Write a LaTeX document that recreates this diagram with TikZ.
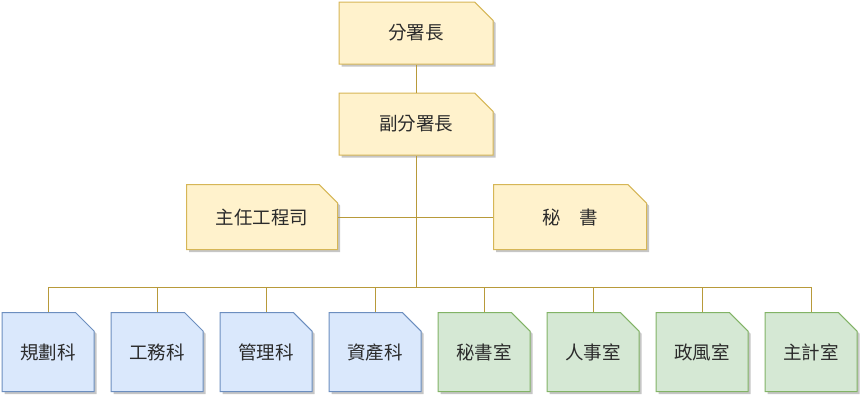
\documentclass[tikz,border=0pt]{standalone}
\usepackage{fontspec}
\setmainfont{Noto Sans CJK TC}
\usetikzlibrary{shapes.misc,shadows}
\definecolor{yellowfill}{HTML}{FFF2CC}
\definecolor{yellowline}{HTML}{D6B656}
\definecolor{bluefill}{HTML}{DAE8FC}
\definecolor{blueline}{HTML}{6C8EBF}
\definecolor{greenfill}{HTML}{D5E8D4}
\definecolor{greenline}{HTML}{82B366}
\definecolor{linkline}{HTML}{B89A3A}
\definecolor{textgray}{HTML}{2B2B2B}
\begin{document}
\begin{tikzpicture}[x=1pt, y=-1pt,
    card/.style={chamfered rectangle, chamfered rectangle corners=north east,
        chamfered rectangle xsep=10pt, chamfered rectangle ysep=10pt,
        inner sep=0pt, line width=1pt, text=textgray,
        font=\fontsize{18.5}{22}\selectfont,
        drop shadow={shadow xshift=2.5pt, shadow yshift=-2.5pt, opacity=0.45, fill=gray}},
    chief/.style={card, fill=yellowfill, draw=yellowline,
        minimum width=154pt, minimum height=62pt},
    section/.style={card, fill=bluefill, draw=blueline,
        minimum width=92pt, minimum height=79pt},
    office/.style={card, fill=greenfill, draw=greenline,
        minimum width=92pt, minimum height=79pt},
    link/.style={draw=linkline, line width=1pt}]
        \useasboundingbox (0,0) rectangle (865,399);

        % 1. Top of the chart
        \node[chief] (head) at (416,33) {分署長};
        \node[chief] (vice) at (416,124) {副分署長};
        \node[chief, minimum width=151pt, minimum height=65pt] (engineer) at (262,217) {主任工程司};
        \node[chief, minimum width=153pt, minimum height=65pt] (secretary) at (570,217) {秘\hspace{1em}書};

        % 2. Sections (blue) and offices (green)
        \node[section] (b1) at (48,352) {規劃科};
        \node[section] (b2) at (157,352) {工務科};
        \node[section] (b3) at (266,352) {管理科};
        \node[section] (b4) at (375,352) {資產科};
        \node[office] (b5) at (484,352) {秘書室};
        \node[office] (b6) at (593,352) {人事室};
        \node[office] (b7) at (702,352) {政風室};
        \node[office] (b8) at (811,352) {主計室};

        % 3. Connectors
        \coordinate (bus) at (416,287);
        \draw[link] (head.south) -- (vice.north);
        \draw[link] (vice.south) -- (bus);
        \draw[link] (engineer.east) -- (secretary.west);
        \foreach \n in {b1,b2,b3,b4,b5,b6,b7,b8}
            \draw[link] (\n.north) |- (bus);
    \end{tikzpicture}
\end{document}
